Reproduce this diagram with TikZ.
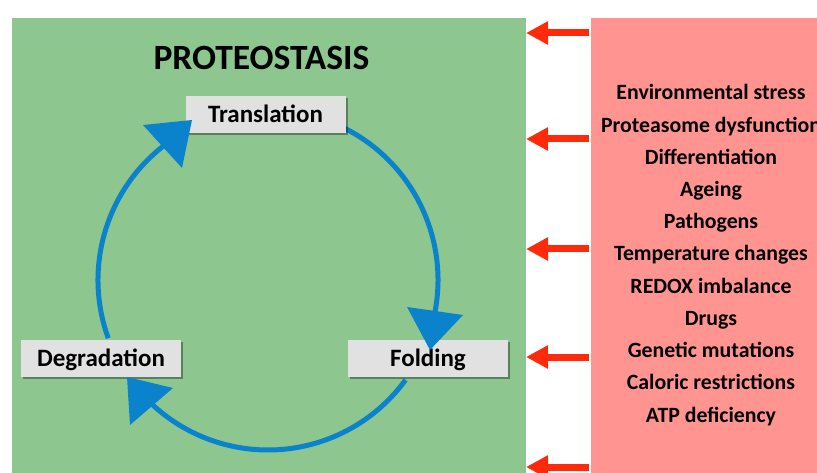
\documentclass[tikz,border=0pt]{standalone}
\usepackage{fontspec}
\setmainfont{Carlito}
\usetikzlibrary{arrows.meta,shadows}
\definecolor{bggreen}{HTML}{8DC68F}
\definecolor{bgred}{HTML}{FF9490}
\definecolor{boxgray}{HTML}{E1E1E1}
\definecolor{cycblue}{HTML}{0A82CC}
\definecolor{arrred}{HTML}{FF2A0A}
\tikzset{
  stagebox/.style={fill=boxgray, minimum width=160pt, minimum height=37pt, inner sep=0pt,
    text height=16pt, text depth=0pt,
    font=\fontsize{25}{28}\selectfont\bfseries,
    drop shadow={shadow xshift=2pt, shadow yshift=-2pt, fill=black, opacity=0.35}},
  cyc/.style={draw=cycblue, line width=5pt},
  cyctip/.style={fill=cycblue},
  factor/.style={font=\fontsize{21.8}{24}\selectfont\bfseries, inner sep=0pt, anchor=base},
  redarrow/.style={draw=arrred, line width=7pt, -{Triangle[length=22pt,width=22pt]}, shorten >=-1pt},
  titletext/.style={font=\fontsize{35.5}{38}\selectfont\bfseries, inner sep=0pt, anchor=base}
}
\begin{document}
\begin{tikzpicture}[x=1pt,y=-1pt]
\useasboundingbox (0,0) rectangle (817,473);
\clip (0,0) rectangle (817,473);
\fill[bggreen] (12,18) rectangle (526,480);
\fill[bgred] (591,18) rectangle (830,480);
\node[titletext] (title) at (261.5,70) {PROTEOSTASIS};
\coordinate (c) at (268,280);
% cycle arcs
\draw[cyc] (c) ++(-63:170) arc[start angle=-63, end angle=15, radius=170];
\draw[cyc] (c) ++(36:170) arc[start angle=36, end angle=137, radius=170];
\draw[cyc] (c) ++(160:170) arc[start angle=160, end angle=236, radius=170];
% boxes
\node[stagebox] (tr) at (265.5,114.5) {Translation};
\node[stagebox] (fo) at (428,358.5) {Folding};
\node[stagebox] (de) at (101,358.5) {Degradation};
% arrow heads
\fill[cyctip] (407,307) -- (463,315) -- (430,350) -- cycle;
\fill[cyctip] (173,388) -- (130,425) -- (127,377) -- cycle;
\fill[cyctip] (143,125) -- (182,168) -- (192,120) -- cycle;
% factors
\foreach \t [count=\i from 0] in {Environmental stress,Proteasome dysfunction,Differentiation,Ageing,Pathogens,Temperature changes,REDOX imbalance,Drugs,Genetic mutations,Caloric restrictions,ATP deficiency}
  \node[factor] (f\i) at (711,100+32.2*\i) {\t};
% red arrows
\foreach \y [count=\j] in {33,139,249,357,467}{
  \coordinate (rs\j) at (589,\y);
  \coordinate (re\j) at (527,\y);
  \draw[redarrow] (rs\j) -- (re\j);
}
\end{tikzpicture}
\end{document}
